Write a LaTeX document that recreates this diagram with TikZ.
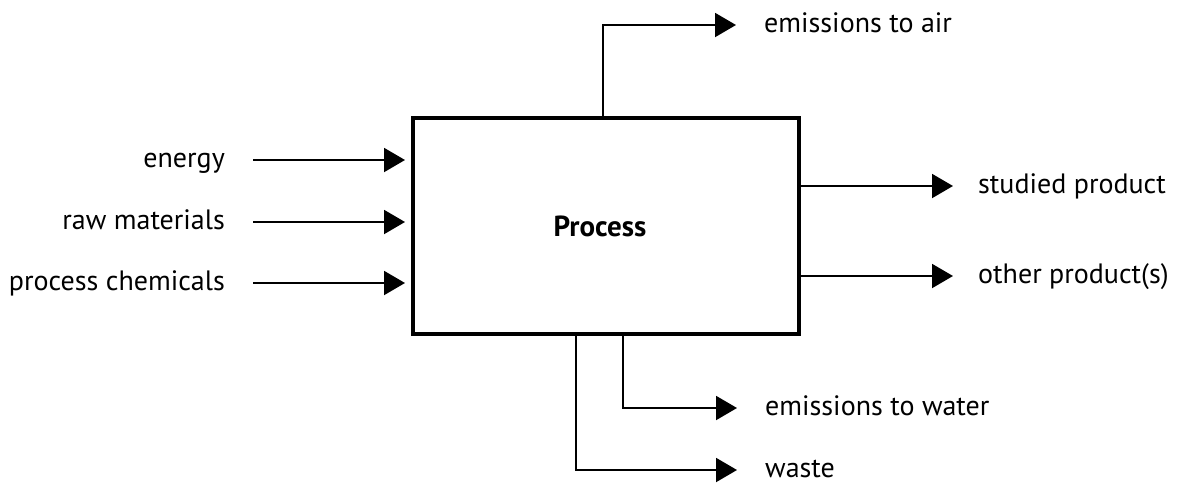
\documentclass[tikz,border=0pt]{standalone}
\usepackage{fontspec}
\setmainfont{PT Sans}
\usetikzlibrary{arrows.meta}
\begin{document}
\begin{tikzpicture}[x=1pt,y=-1pt,
  lbl/.style={inner sep=0pt,font=\fontsize{28}{32}\selectfont,
              text height=21pt,text depth=7pt},
  flow/.style={line width=2pt,-{Triangle[length=21pt,width=24pt]}},
  procbox/.style={draw,line width=4.5pt,outer sep=0pt,
                  minimum width=386pt,minimum height=216pt}]
\useasboundingbox (0,0) rectangle (1189,483);

% central process box
\node[procbox] (box) at (606,226) {};
\node[font=\fontsize{29}{34}\selectfont\bfseries,inner sep=0pt] (ptext) at (600,226) {Process};

% inputs
\node[lbl,anchor=east] (energy) at (225,160) {energy};
\node[lbl,anchor=east] (raw)    at (225,222) {raw materials};
\node[lbl,anchor=east] (chem)   at (225,283) {process chemicals};
\foreach \n in {energy,raw,chem}
  \draw[flow,shorten <=28pt,shorten >=8pt] (\n.east) -- (box.west |- \n.east);

% outputs
\node[lbl,anchor=west] (air)     at (764,25)  {emissions to air};
\node[lbl,anchor=west] (studied) at (978,186) {studied product};
\node[lbl,anchor=west] (other)   at (978,276) {other product(s)};
\node[lbl,anchor=west] (water)   at (765,408) {emissions to water};
\node[lbl,anchor=west] (waste)   at (765,470) {waste};

\draw[flow,shorten >=28pt] ([xshift=-3pt]box.north) |- (air.west);
\draw[flow,shorten >=25pt] (box.east |- studied.west) -- (studied.west);
\draw[flow,shorten >=25pt] (box.east |- other.west) -- (other.west);
\draw[flow,shorten >=28pt] ([xshift=17pt]box.south) |- (water.west);
\draw[flow,shorten >=28pt] ([xshift=-30pt]box.south) |- (waste.west);
\end{tikzpicture}
\end{document}
